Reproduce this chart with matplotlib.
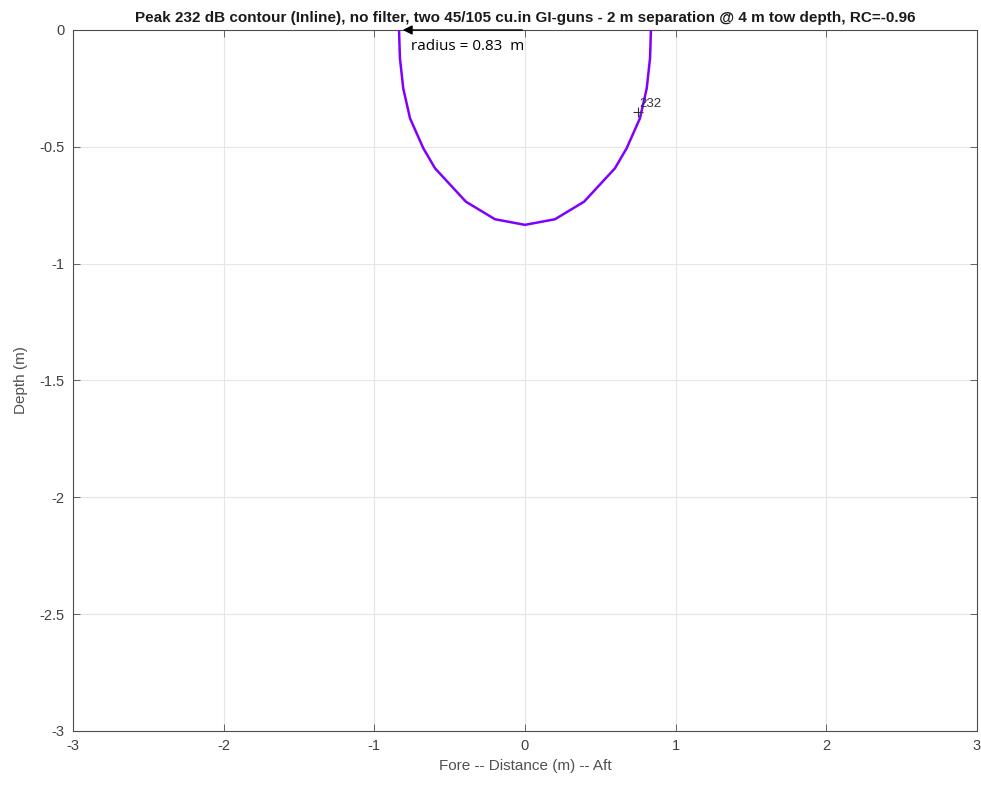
import matplotlib
matplotlib.use("Agg")
import matplotlib.pyplot as plt

# contour points of the peak 232 dB level
contour_x = [-0.836, -0.83, -0.808, -0.763, -0.675, -0.597, -0.392, -0.199, 0.0,
             0.199, 0.392, 0.597, 0.675, 0.763, 0.808, 0.83, 0.836]
contour_y = [0.0, -0.121, -0.25, -0.378, -0.506, -0.592, -0.735, -0.810, -0.834,
             -0.810, -0.735, -0.592, -0.506, -0.378, -0.25, -0.121, 0.0]
level = 232
radius = 0.83
label_pos = (0.75, -0.35)

title = ("Peak 232 dB contour (Inline), no filter, two 45/105 cu.in GI-guns - "
         "2 m separation @ 4 m tow depth, RC=-0.96")

plt.rcParams['font.family'] = ['Liberation Sans', 'DejaVu Sans']
plt.rcParams['axes.unicode_minus'] = False
fig = plt.figure(figsize=(9.81, 7.87), dpi=100)
ax = fig.add_axes([0.0744, 0.0712, 0.9215, 0.8907])

ax.plot(contour_x, contour_y, color='#8000ff', lw=1.8, zorder=3)

# contour label
ax.plot(label_pos[0], label_pos[1], marker='+', color='#333333', ms=7, mew=0.8, zorder=4)
ax.text(label_pos[0] + 0.01, label_pos[1] + 0.035, str(level), fontsize=9.5,
        color='#333333', ha='left', va='center')

# radius arrow
ax.annotate('', xy=(-radius, 0), xytext=(0, 0),
            arrowprops=dict(arrowstyle='-|>', color='black', lw=1.0, mutation_scale=14),
            zorder=5, annotation_clip=False)
ax.text(-0.755, -0.072, 'radius = %.2f  m' % radius, fontsize=11, family='Open Sans',
        color='black', ha='left', va='center')

ax.set_xlim(-3, 3)
ax.set_ylim(-3, 0)
ax.set_xticks([-3, -2, -1, 0, 1, 2, 3])
ax.set_yticks([-3, -2.5, -2, -1.5, -1, -0.5, 0])
ax.set_yticklabels(['-3', '-2.5', '-2', '-1.5', '-1', '-0.5', '0'])
ax.grid(True, color='#e6e6e6', lw=0.8)
ax.set_axisbelow(True)
for s in ax.spines.values():
    s.set_color('#4d4d4d')
    s.set_linewidth(0.8)
ax.tick_params(direction='in', length=5, width=0.6, colors='#4d4d4d',
               labelcolor='#404040', labelsize=10.5, top=True, right=True, pad=6)

ax.set_xlabel('Fore -- Distance (m) -- Aft', fontsize=11, color='#505050', labelpad=4)
ax.set_ylabel('Depth (m)', fontsize=11, color='#505050', labelpad=8)
ax.set_title(title, fontsize=11, fontweight='bold', color='#1a1a1a', pad=6)

fig.savefig('out.png', dpi=100)
